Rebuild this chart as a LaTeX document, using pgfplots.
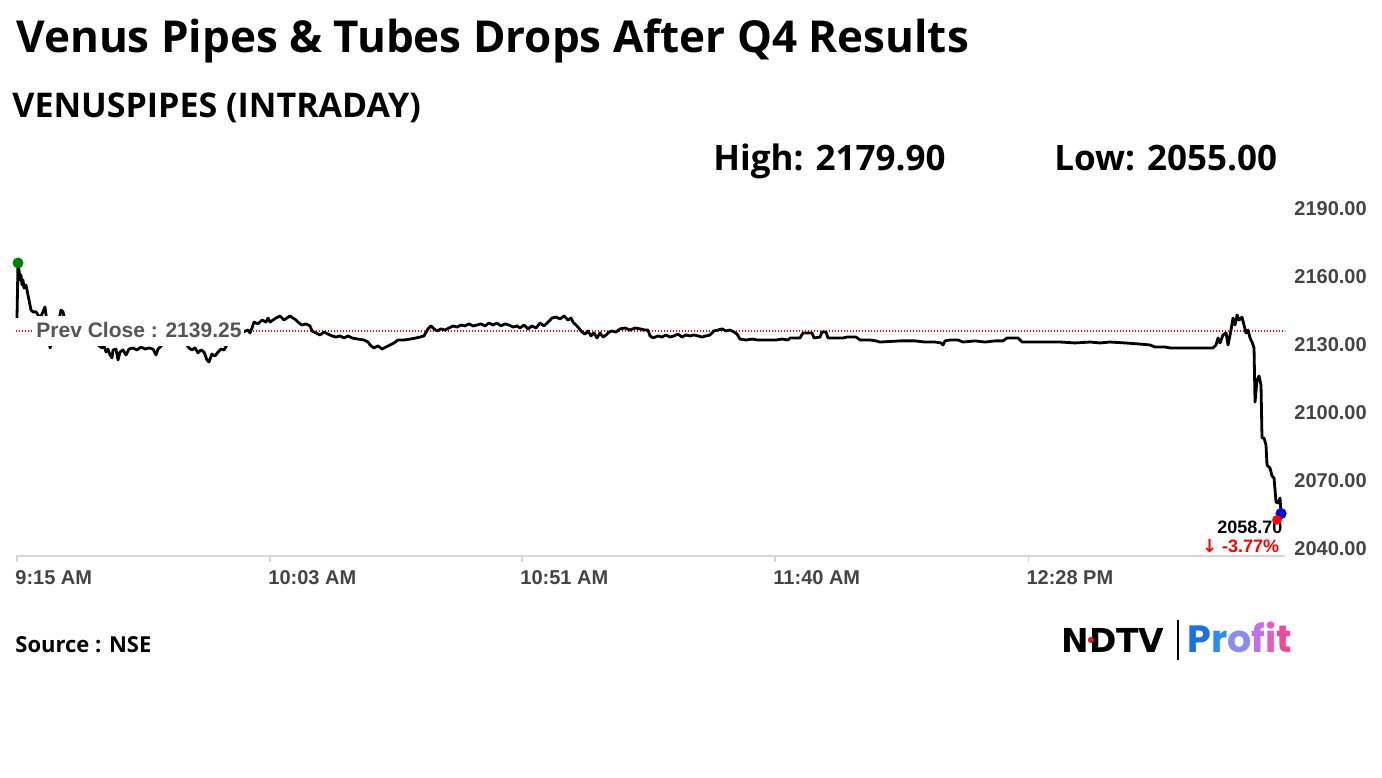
\documentclass[border=0pt]{standalone}
\usepackage{pgfplots}
\pgfplotsset{compat=1.18}
\usepackage{pgfplotstable}
\usepackage{fontspec}
\setmainfont{Liberation Sans}
\newfontfamily\opensans{Open Sans}
\newfontfamily\poppins{Poppins}
\newfontfamily\dejavu{DejaVu Sans}
\definecolor{labgray}{HTML}{444444}
\definecolor{pcgray}{HTML}{555555}
\definecolor{axgray}{HTML}{D6D6D6}
\definecolor{pcred}{HTML}{D42020}
\definecolor{dotgreen}{HTML}{008000}
\definecolor{dotblue}{HTML}{0A0ACC}
\definecolor{pA}{HTML}{1A72E0}
\definecolor{pB}{HTML}{2E8CF0}
\definecolor{pC}{HTML}{8A8CF0}
\definecolor{pD}{HTML}{C070E8}
\definecolor{pE}{HTML}{E65CC4}
\definecolor{pF}{HTML}{F0489A}

\pgfplotstableread{
t v
-0.19 2145.0
0 2169.3
0.19 2166.2
0.38 2161.8
0.57 2164.0
0.76 2159.6
0.95 2161.8
1.14 2158.2
1.52 2159.6
1.71 2157.4
2.10 2152.9
2.48 2148.5
2.86 2147.7
3.43 2147.7
4.19 2145.0
4.76 2147.7
5.14 2149.9
5.52 2143.2
6.10 2131.8
6.67 2136.2
7.43 2139.7
8.19 2148.5
8.57 2147.7
9.14 2141.9
10.29 2137.5
11.81 2135.3
13.71 2134.4
15.24 2133.1
16.00 2131.8
16.38 2132.7
16.76 2130.0
17.14 2131.3
17.52 2128.7
17.90 2127.4
18.10 2130.9
18.67 2131.3
19.05 2126.5
19.43 2130.0
20.00 2130.9
20.57 2128.7
21.14 2131.3
21.90 2131.8
22.67 2130.9
23.43 2132.2
24.19 2131.3
24.95 2131.8
25.71 2131.3
26.29 2128.7
26.67 2131.3
28.00 2134.4
29.90 2135.3
31.81 2134.0
32.57 2131.8
33.14 2130.9
33.71 2131.8
34.29 2129.6
34.86 2130.9
35.43 2130.0
36.00 2126.5
36.38 2125.6
36.95 2129.1
37.52 2128.2
38.10 2130.0
38.67 2131.3
39.24 2130.9
40.38 2135.3
42.29 2138.4
43.81 2139.7
44.19 2138.4
44.57 2140.6
44.95 2143.2
45.71 2142.4
46.48 2144.1
47.24 2143.2
47.62 2145.0
48.00 2143.2
48.57 2144.1
49.14 2145.0
49.90 2145.9
50.67 2144.1
51.24 2145.0
51.81 2145.9
52.38 2145.0
52.95 2144.1
53.52 2142.8
54.10 2141.9
54.86 2142.4
55.62 2141.5
56.00 2139.3
56.76 2138.4
57.52 2137.5
58.29 2138.8
59.05 2137.9
59.81 2137.1
60.57 2136.6
61.33 2137.1
62.10 2136.2
62.86 2137.1
63.62 2136.2
64.76 2135.7
65.90 2135.3
66.67 2134.4
67.24 2132.7
67.81 2131.8
68.57 2132.7
69.33 2131.3
70.10 2132.2
70.86 2133.1
71.62 2134.0
72.38 2135.3
73.52 2135.3
74.67 2135.7
75.81 2136.2
76.57 2136.6
77.33 2137.1
78.10 2140.2
78.67 2141.5
79.24 2140.2
79.81 2139.3
80.57 2140.2
81.33 2139.7
82.10 2140.6
82.86 2141.5
83.62 2141.0
84.38 2141.9
85.14 2141.5
85.90 2142.4
86.67 2141.5
87.43 2141.9
88.19 2142.4
88.95 2141.5
89.71 2142.8
90.48 2141.9
91.24 2142.8
92.00 2141.5
92.76 2142.4
93.52 2141.9
94.29 2141.0
95.05 2141.5
95.62 2140.6
96.38 2141.9
97.14 2140.2
97.90 2141.5
98.67 2140.6
99.43 2142.8
100.19 2141.5
100.95 2143.2
101.71 2145.0
102.48 2145.4
103.24 2144.6
104.00 2145.9
104.76 2144.1
105.33 2145.0
105.71 2143.2
106.29 2141.9
106.67 2141.0
107.43 2138.8
108.00 2137.9
108.57 2139.3
109.14 2137.1
109.71 2138.4
110.29 2136.2
110.86 2138.4
111.43 2136.6
112.00 2137.5
112.57 2138.8
113.14 2139.3
113.90 2138.8
114.67 2140.2
115.62 2140.6
116.57 2139.7
117.52 2140.6
118.48 2140.2
119.43 2139.7
120.00 2139.7
120.38 2137.1
120.95 2136.2
121.90 2137.1
122.67 2136.6
123.43 2137.5
124.19 2136.6
124.95 2137.1
125.71 2137.9
126.48 2136.6
127.24 2137.5
128.00 2137.1
128.76 2137.5
129.52 2137.1
130.29 2136.6
131.05 2137.1
131.81 2137.5
132.57 2139.3
133.33 2139.7
134.10 2140.2
134.86 2139.3
135.62 2139.7
136.38 2138.8
136.95 2137.9
137.52 2135.7
138.67 2135.3
139.81 2135.7
140.95 2135.3
142.10 2135.3
143.24 2135.3
144.38 2135.3
145.52 2135.7
146.67 2135.3
147.05 2136.2
148.95 2136.2
149.52 2138.4
151.24 2138.4
151.62 2136.2
152.76 2136.6
153.14 2138.8
153.90 2138.8
154.29 2136.2
155.81 2136.2
157.14 2136.2
157.90 2136.6
159.62 2136.6
160.38 2135.3
162.29 2135.3
163.43 2134.9
164.19 2134.4
168.00 2134.9
170.86 2134.9
172.76 2134.4
174.67 2134.4
175.81 2134.0
176.19 2133.1
176.57 2134.9
177.52 2135.3
179.05 2135.3
180.00 2134.4
182.29 2134.9
184.19 2134.4
186.10 2134.9
187.62 2134.9
188.38 2136.2
190.48 2136.2
191.24 2134.4
193.71 2134.4
195.62 2134.4
197.90 2134.4
198.48 2134.4
201.33 2134.0
204.19 2134.4
206.10 2134.0
208.00 2134.4
210.86 2134.0
213.71 2133.5
215.62 2133.1
216.57 2132.2
218.48 2132.2
219.43 2131.8
223.24 2131.8
227.62 2131.8
228.19 2133.1
228.57 2136.2
228.95 2134.0
229.52 2137.5
230.10 2138.4
230.48 2133.1
231.05 2139.7
231.43 2145.0
231.81 2141.9
232.19 2146.3
232.57 2144.1
233.14 2145.4
233.52 2141.9
233.90 2138.4
234.29 2139.7
234.67 2136.2
235.05 2134.4
235.43 2131.8
235.62 2107.9
236.00 2117.6
236.38 2119.4
236.76 2115.4
236.95 2092.1
237.33 2092.1
237.71 2089.0
237.90 2080.1
238.48 2078.8
238.86 2075.3
239.24 2074.4
239.62 2063.8
240.00 2063.4
240.38 2065.6
240.57 2058.7
}\pricedata

\begin{document}
\begin{tikzpicture}
\path[use as bounding box] (0,0) rectangle (691pt,-388.5pt);
\begin{scope}[x=0.5pt,y=-0.5pt]
 \node[anchor=base west, inner sep=0pt, font=\opensans\bfseries\fontsize{22}{26}\selectfont] at (16,52) {Venus Pipes \& Tubes Drops After Q4 Results};
 \node[anchor=base west, inner sep=0pt, font=\opensans\bfseries\fontsize{17}{20}\selectfont] at (12,117) {VENUSPIPES (INTRADAY)};
 \node[anchor=base west, inner sep=0pt, font=\opensans\bfseries\fontsize{17.5}{20}\selectfont] at (713,170) {High: 2179.90};
 \node[anchor=base west, inner sep=0pt, font=\opensans\bfseries\fontsize{17.5}{20}\selectfont] at (1054,170) {Low: 2055.00};
 \node[anchor=base west, inner sep=0pt, font=\opensans\bfseries\fontsize{11}{13}\selectfont] at (15,652) {Source : NSE};
 % logo
 \node[anchor=base west, inner sep=0pt, font=\dejavu\bfseries\fontsize{16.5}{18}\selectfont] at (1061,652) {NDTV};
 \fill[pcred] (1091,640) circle (3.2);
 \draw[black, line width=1.1pt] (1178,620) -- (1178,660);
 \node[anchor=base west, inner sep=0pt, font=\poppins\bfseries\fontsize{19}{22}\selectfont] at (1187,652) {\textcolor{pA}{P}\textcolor{pB}{r}\textcolor{pC}{o}\textcolor{pD}{f}\textcolor{pE}{i}\textcolor{pF}{t}};
\end{scope}
\begin{axis}[
 at={(8pt,-278pt)}, anchor=south west,
 scale only axis, width=634.5pt, height=170pt,
 xmin=-0.38, xmax=241.33, ymin=2040, ymax=2190,
 clip=false,
 axis x line*=bottom, axis y line*=right,
 x axis line style={draw=axgray, line width=0.6pt},
 y axis line style={draw=none},
 xtick={-0.19,48,96,144.2,192.4},
 xticklabels={9:15 AM,10:03 AM,10:51 AM,11:40 AM,12:28 PM},
 xtick style={draw=axgray, line width=0.6pt},
 ytick={2040,2070,2100,2130,2160,2190},
 ytick style={draw=none},
 tick align=outside, major tick length=3pt,
 /pgf/number format/assume math mode=true,
 yticklabel={\pgfmathprintnumber[fixed,fixed zerofill,precision=2,set thousands separator={}]{\tick}},
 yticklabel style={anchor=west, inner sep=0pt, xshift=1.5pt, yshift=3.5pt, font=\bfseries\fontsize{10}{12}\selectfont, text=labgray},
 xticklabel style={anchor=north west, inner sep=0pt, xshift=-1pt, yshift=-4pt, font=\bfseries\fontsize{10}{12}\selectfont, text=labgray},
]
 \addplot[red, line width=0.6pt, dash pattern=on 0.6pt off 0.9pt] coordinates {(-0.38,2139.25) (241.33,2139.25)};
 \addplot[black, line width=1.4pt, line join=round] table[x=t,y=v] {\pricedata};
 \node[anchor=west, fill=white, inner xsep=1.5pt, inner ysep=2.5pt, text height=8pt, text depth=2pt, text=pcgray, font=\bfseries\fontsize{10.5}{12}\selectfont] at (axis cs:2.86,2139.25) {Prev Close : 2139.25};
 \addplot[only marks, mark=*, mark size=2.5pt, dotgreen] coordinates {(0,2169.3)};
 \addplot[only marks, mark=*, mark size=2.6pt, dotblue] coordinates {(240.57,2058.7)};
 \addplot[only marks, mark=*, mark size=2.2pt, red] coordinates {(239.8,2055.9)};
 \node[anchor=east, inner sep=0pt, font=\bfseries\fontsize{9}{11}\selectfont] at (axis cs:240.9,2052.8) {2058.70};
 \node[anchor=east, inner sep=0pt, text=red, font=\bfseries\fontsize{9}{11}\selectfont] at (axis cs:240.3,2044.4) {{\dejavu\bfseries ↓} -3.77\%};
\end{axis}
\end{tikzpicture}
\end{document}
